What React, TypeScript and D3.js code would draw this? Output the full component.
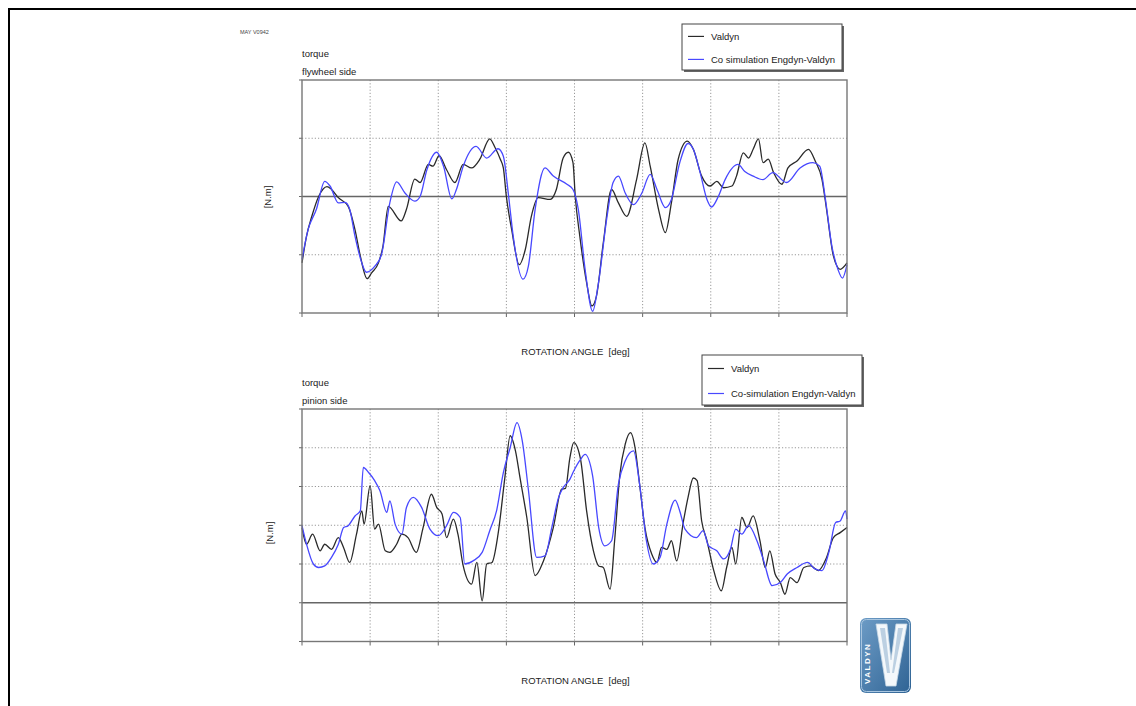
import React, { useEffect, useRef } from 'react';
import * as d3 from 'd3';

// rotation angle ticks [deg]
const angleTicks = [0, 90, 180, 270, 360, 450, 540, 630, 720];

// torque - flywheel side
const flyValdynAngle = [0, 6, 13, 22, 33, 39, 48, 61, 70, 77, 86, 92, 101, 107, 114, 131, 138, 149, 156, 167, 173, 181, 191, 202, 213, 224, 235, 248, 255, 262, 266, 270, 277, 287, 295, 303, 312, 328, 336, 345, 352, 358, 361, 367, 376, 383, 389, 398, 409, 418, 429, 442, 453, 460, 471, 480, 488, 497, 509, 517, 528, 539, 548, 557, 568, 574, 583, 590, 596, 603, 609, 616, 623, 634, 642, 654, 669, 678, 687, 693, 702, 711, 720];
const flyValdynTorque = [-1.14, -0.68, -0.34, 0.0, 0.17, 0.12, -0.02, -0.17, -0.57, -1.02, -1.41, -1.31, -1.14, -0.85, -0.17, -0.42, -0.22, 0.30, 0.24, 0.55, 0.52, 0.70, 0.46, 0.24, 0.55, 0.49, 0.64, 0.99, 0.84, 0.64, 0.49, 0.0, -0.57, -1.17, -0.91, -0.34, -0.02, -0.05, 0.12, 0.66, 0.76, 0.58, 0.0, -0.68, -1.48, -1.88, -1.71, -0.80, 0.12, -0.11, -0.34, 0.29, 0.92, 0.52, -0.22, -0.62, -0.11, 0.64, 0.95, 0.81, 0.35, 0.18, 0.26, 0.15, 0.18, 0.35, 0.75, 0.66, 0.81, 0.99, 0.58, 0.64, 0.41, 0.21, 0.49, 0.61, 0.81, 0.61, 0.29, -0.22, -1.02, -1.25, -1.14];
const flyCosimAngle = [0, 8, 19, 30, 37, 48, 57, 63, 70, 79, 85, 96, 105, 116, 125, 136, 149, 156, 165, 178, 187, 198, 204, 213, 230, 244, 259, 266, 273, 279, 292, 299, 308, 321, 332, 350, 358, 365, 374, 384, 391, 403, 411, 418, 427, 438, 449, 460, 469, 480, 488, 499, 510, 517, 526, 535, 541, 550, 559, 576, 585, 596, 609, 622, 640, 658, 675, 684, 691, 700, 708, 714, 720];
const flyCosimTorque = [-1.08, -0.57, -0.22, 0.26, 0.18, -0.11, -0.10, -0.22, -0.68, -1.14, -1.30, -1.20, -1.0, -0.11, 0.25, 0.06, -0.08, 0.0, 0.46, 0.76, 0.52, -0.04, 0.12, 0.52, 0.86, 0.66, 0.82, 0.69, 0.0, -0.68, -1.42, -1.20, -0.22, 0.49, 0.35, 0.21, 0.12, -0.22, -1.25, -1.97, -1.54, -0.34, 0.24, 0.35, 0.06, -0.14, 0.06, 0.38, 0.12, -0.19, -0.05, 0.58, 0.91, 0.81, 0.41, -0.05, -0.18, 0.0, 0.29, 0.55, 0.43, 0.35, 0.29, 0.41, 0.24, 0.49, 0.58, 0.52, 0.0, -0.85, -1.25, -1.40, -1.17];

// torque - pinion side
const pinValdynAngle = [0, 6, 14, 24, 30, 39, 48, 55, 63, 72, 79, 82, 90, 96, 101, 110, 116, 125, 132, 140, 151, 160, 171, 178, 185, 191, 200, 206, 213, 224, 231, 238, 244, 251, 259, 268, 275, 282, 288, 297, 308, 319, 332, 343, 348, 354, 359, 368, 376, 385, 392, 398, 407, 413, 420, 427, 434, 440, 446, 453, 462, 469, 475, 482, 488, 495, 504, 510, 517, 522, 528, 535, 544, 554, 561, 568, 573, 581, 588, 596, 605, 612, 618, 625, 632, 638, 645, 654, 663, 672, 682, 693, 702, 711, 720];
const pinValdynTorque = [1.94, 1.51, 1.77, 1.34, 1.51, 1.38, 1.68, 1.42, 1.04, 1.77, 2.37, 2.03, 3.02, 1.90, 2.03, 1.34, 1.30, 1.51, 1.77, 1.68, 1.30, 1.94, 2.80, 2.46, 2.29, 1.68, 2.16, 1.77, 0.95, 0.48, 1.04, 0.05, 1.0, 1.04, 1.77, 3.23, 4.31, 3.92, 3.23, 2.20, 0.70, 1.08, 1.94, 2.93, 2.95, 3.75, 4.13, 3.70, 2.37, 1.34, 0.95, 0.91, 0.35, 1.60, 3.32, 4.09, 4.39, 4.0, 3.06, 1.94, 1.26, 1.04, 1.43, 1.38, 1.60, 1.08, 2.11, 2.72, 3.22, 3.15, 2.11, 1.60, 0.83, 0.31, 0.91, 1.43, 1.0, 2.20, 1.94, 2.24, 1.60, 0.91, 1.34, 0.74, 0.52, 0.22, 0.65, 0.52, 0.91, 0.95, 0.83, 1.17, 1.68, 1.81, 1.94];
const pinCosimAngle = [0, 6, 15, 22, 30, 39, 48, 55, 61, 70, 77, 81, 88, 96, 103, 112, 116, 123, 132, 138, 147, 158, 169, 180, 191, 200, 209, 215, 226, 238, 248, 257, 266, 275, 284, 291, 299, 310, 321, 330, 339, 345, 354, 358, 368, 374, 384, 392, 400, 409, 418, 427, 438, 446, 455, 464, 473, 482, 493, 499, 506, 521, 530, 537, 548, 557, 566, 573, 581, 590, 601, 610, 621, 632, 641, 654, 668, 677, 687, 696, 705, 711, 718, 720];
const pinCosimTorque = [1.99, 1.51, 1.0, 0.91, 0.95, 1.17, 1.51, 1.94, 1.99, 2.24, 2.37, 3.49, 3.36, 3.15, 2.89, 2.33, 2.63, 2.03, 1.77, 2.46, 2.72, 2.46, 1.90, 1.73, 1.99, 2.33, 2.20, 1.0, 1.08, 1.30, 1.86, 2.37, 3.36, 4.0, 4.65, 4.18, 2.93, 1.17, 1.21, 1.94, 2.72, 2.97, 3.19, 3.36, 3.70, 3.83, 3.27, 1.94, 1.47, 1.60, 3.06, 3.66, 3.92, 3.06, 1.60, 1.0, 1.17, 2.03, 2.65, 2.37, 1.90, 1.68, 1.86, 1.47, 1.34, 1.13, 1.38, 1.90, 1.77, 1.99, 1.60, 1.08, 0.44, 0.52, 0.74, 0.91, 1.04, 0.88, 0.83, 1.30, 2.07, 2.11, 2.37, 2.16];

const font = "'Liberation Sans', Arial, sans-serif";
const black = '#2a2a2a';
const blue = '#4848ff';
const fs = '9.5px';

const W = 1136;
const H = 706;
const plotLeft = 302;
const plotRight = 847;

const panels = [
  {
    top: 80, bottom: 313, yDomain: [-2, 2], yTicks: [-2, -1, 0, 1, 2],
    title: ['torque', 'flywheel side'], titleY: 53,
    unitX: 268, unitY: 197,
    legend: { x: 682, y: 24, w: 160, h: 46, label: 'Co simulation Engdyn-Valdyn' },
    valdyn: [flyValdynAngle, flyValdynTorque], cosim: [flyCosimAngle, flyCosimTorque],
  },
  {
    top: 409, bottom: 641.5, yDomain: [-1, 5], yTicks: [-1, 0, 1, 2, 3, 4, 5],
    title: ['torque', 'pinion side'], titleY: 382,
    unitX: 270, unitY: 533,
    legend: { x: 702, y: 355, w: 160, h: 50, label: 'Co-simulation Engdyn-Valdyn' },
    valdyn: [pinValdynAngle, pinValdynTorque], cosim: [pinCosimAngle, pinCosimTorque],
  },
];

const App = () => {
  const svgRef = useRef<SVGSVGElement>(null);

  useEffect(() => {
    const svg = d3.select(svgRef.current);
    svg.selectAll('*').remove();
    svg.attr('width', W).attr('height', H).style('font-family', font);

    // outer page frame
    svg.append('rect')
      .attr('x', 9).attr('y', 9).attr('width', W + 20).attr('height', H + 20)
      .attr('fill', 'none').attr('stroke', '#000').attr('stroke-width', 2);

    svg.append('text')
      .attr('x', 240).attr('y', 34)
      .style('font-size', '5.5px').attr('fill', '#444')
      .text('MAY V0942');

    const x = d3.scaleLinear().domain([0, 720]).range([plotLeft, plotRight]);

    panels.forEach(p => {
      const y = d3.scaleLinear().domain(p.yDomain).range([p.bottom, p.top]);
      const g = svg.append('g');

      // titles
      p.title.forEach((t, i) => {
        g.append('text')
          .attr('x', plotLeft).attr('y', p.titleY + i * 18 + 3.5)
          .style('font-size', fs).attr('fill', '#222')
          .text(t);
      });

      // dotted grid
      g.append('g').selectAll('line')
        .data(angleTicks.slice(1, -1))
        .join('line')
        .attr('x1', d => x(d)).attr('x2', d => x(d))
        .attr('y1', p.top).attr('y2', p.bottom)
        .attr('stroke', '#999').attr('stroke-dasharray', '1.2,2');

      g.append('g').selectAll('line')
        .data(p.yTicks.slice(1, -1).filter(d => d !== 0))
        .join('line')
        .attr('x1', plotLeft).attr('x2', plotRight)
        .attr('y1', d => y(d)).attr('y2', d => y(d))
        .attr('stroke', '#999').attr('stroke-dasharray', '1.2,2');

      // zero line
      g.append('line')
        .attr('x1', plotLeft).attr('x2', plotRight)
        .attr('y1', y(0)).attr('y2', y(0))
        .attr('stroke', '#666').attr('stroke-width', 1.3);

      // ticks
      g.append('g').selectAll('line')
        .data(angleTicks)
        .join('line')
        .attr('x1', d => x(d)).attr('x2', d => x(d))
        .attr('y1', p.bottom).attr('y2', p.bottom + 4)
        .attr('stroke', '#666');
      g.append('g').selectAll('line')
        .data(p.yTicks)
        .join('line')
        .attr('x1', plotLeft - 3).attr('x2', plotLeft)
        .attr('y1', d => y(d)).attr('y2', d => y(d))
        .attr('stroke', '#666');

      // series
      const line = d3.line<[number, number]>()
        .x(d => x(d[0]))
        .y(d => y(d[1]))
        .curve(d3.curveMonotoneX);

      const toPts = (s: number[][]) => s[0].map((a, i) => [a, s[1][i]] as [number, number]);

      g.append('path')
        .attr('d', line(toPts(p.valdyn)))
        .attr('fill', 'none').attr('stroke', black).attr('stroke-width', 1.3);
      g.append('path')
        .attr('d', line(toPts(p.cosim)))
        .attr('fill', 'none').attr('stroke', blue).attr('stroke-width', 1.3);

      // frame
      g.append('rect')
        .attr('x', plotLeft).attr('y', p.top)
        .attr('width', plotRight - plotLeft).attr('height', p.bottom - p.top)
        .attr('fill', 'none').attr('stroke', '#777').attr('stroke-width', 1.4);

      // axis labels
      g.append('text')
        .attr('x', (plotLeft + plotRight) / 2 + 1).attr('y', p.bottom + 42)
        .attr('text-anchor', 'middle')
        .style('font-size', fs).attr('fill', '#222')
        .text('ROTATION ANGLE\u00a0\u00a0[deg]');

      g.append('text')
        .attr('transform', `translate(${p.unitX + 3},${p.unitY}) rotate(-90)`)
        .attr('text-anchor', 'middle')
        .style('font-size', fs).attr('fill', '#222')
        .text('[N.m]');

      // legend
      const lg = g.append('g').attr('transform', `translate(${p.legend.x},${p.legend.y})`);
      lg.append('rect')
        .attr('x', 2).attr('y', 2)
        .attr('width', p.legend.w).attr('height', p.legend.h)
        .attr('fill', '#666');
      lg.append('rect')
        .attr('width', p.legend.w).attr('height', p.legend.h)
        .attr('fill', '#fff').attr('stroke', '#444').attr('stroke-width', 1);
      const rowY = [p.legend.h * 0.27, p.legend.h * 0.77];
      [['Valdyn', black], [p.legend.label, blue]].forEach(([label, c], i) => {
        lg.append('line')
          .attr('x1', 6).attr('x2', 22)
          .attr('y1', rowY[i]).attr('y2', rowY[i])
          .attr('stroke', c).attr('stroke-width', 1.2);
        lg.append('text')
          .attr('x', 29).attr('y', rowY[i] + 3.5)
          .style('font-size', fs).attr('fill', '#222')
          .text(label);
      });
    });

    // logo
    const logo = svg.append('g').attr('transform', 'translate(860,618)');
    const grad = svg.append('defs').append('linearGradient')
      .attr('id', 'logoGrad').attr('x1', 0).attr('x2', 1).attr('y1', 0).attr('y2', 1);
    grad.append('stop').attr('offset', '0%').attr('stop-color', '#6d9cc6');
    grad.append('stop').attr('offset', '100%').attr('stop-color', '#2f6394');
    logo.append('rect')
      .attr('width', 51).attr('height', 75).attr('rx', 6)
      .attr('fill', 'url(#logoGrad)');
    logo.append('rect')
      .attr('x', 1.5).attr('y', 1.5).attr('width', 48).attr('height', 72).attr('rx', 5)
      .attr('fill', 'none').attr('stroke', '#a9c6e0').attr('stroke-width', 1);
    logo.append('path')
      .attr('d', 'M16,6 L27,6 L31,42 L36,6 L47,6 L36,68 L26,68 Z')
      .attr('fill', '#f4f8fb').attr('stroke', '#c8d8e6').attr('stroke-width', 0.8);
    logo.append('path')
      .attr('d', 'M20,10 L25,10 L30,55 L27,55 Z M38,10 L43,10 L34,55 L32,55 Z')
      .attr('fill', '#bcd0e2');
    logo.append('text')
      .attr('transform', 'translate(10,66) rotate(-90)')
      .style('font-size', '8px').style('font-weight', 'bold')
      .attr('fill', '#fff').attr('letter-spacing', 1.5)
      .text('VALDYN');
  }, []);

  return (
    <svg ref={svgRef} style={{ position: 'absolute', left: 0, top: 0, background: '#fff' }}></svg>
  );
};

export default App;
